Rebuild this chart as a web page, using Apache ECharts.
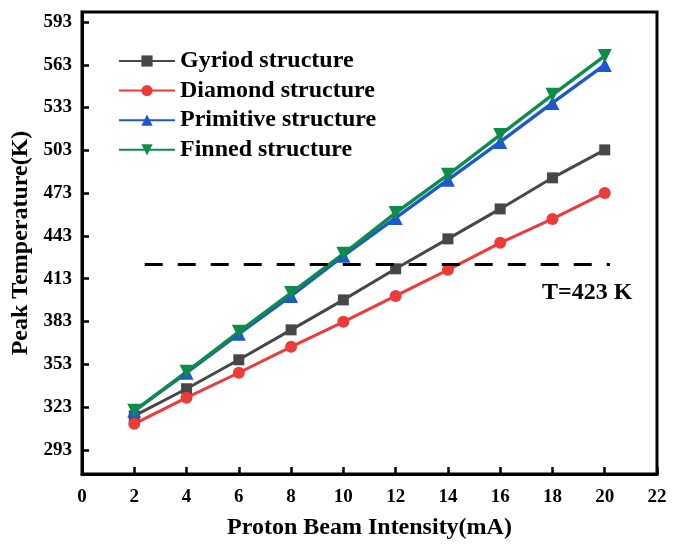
<!DOCTYPE html>
<html>
<head>
<meta charset="utf-8">
<script src="https://cdn.jsdelivr.net/npm/echarts@6/dist/echarts.min.js"></script>
<style>html,body{margin:0;padding:0;background:#fff}#c{width:678px;height:545px}</style>
</head>
<body>
<div id="c"></div>
<script>
var xValues = [2, 4, 6, 8, 10, 12, 14, 16, 18, 20];
var gyroid = [316.8, 335.8, 356.1, 377.1, 398.1, 419.9, 440.9, 461.9, 483.7, 503.3];
var diamond = [311.2, 329.5, 347.0, 365.2, 382.7, 400.9, 419.2, 438.1, 454.9, 473.1];
var primitive = [320.3, 347.0, 374.3, 400.9, 429.0, 455.6, 482.3, 508.9, 536.2, 562.9];
var finned = [320.3, 347.7, 375.7, 403.0, 430.4, 459.1, 485.8, 513.8, 541.9, 569.2];
var yTicks = [293, 323, 353, 383, 413, 443, 473, 503, 533, 563, 593];
var thresholdValue = 423;
var thresholdRange = [2.4, 20.2];
var thresholdLabel = 'T=423 K';

function pairs(ys) { return xValues.map(function (x, i) { return [x, ys[i]]; }); }

var font = '"Liberation Serif", "Times New Roman", serif';
var chart = echarts.init(document.getElementById('c'), null, { renderer: 'canvas' });

function series(name, data, color, symbol, size, width, rotate) {
  return {
    name: name, type: 'line', data: pairs(data),
    symbol: symbol, symbolSize: size, symbolRotate: rotate || 0,
    lineStyle: { color: color, width: width },
    itemStyle: { color: color },
    z: 3
  };
}

var s = [
  series('Gyriod structure', gyroid, '#474747', 'rect', 11, 3),
  series('Diamond structure', diamond, '#ef3a3a', 'circle', 12, 3),
  series('Primitive structure', primitive, '#1c57d4', 'triangle', 14, 3.4),
  series('Finned structure', finned, '#0d8c4a', 'triangle', 14, 3.4, 180)
];
s.push({
  type: 'line', data: [], silent: true,
  markLine: {
    symbol: ['none', 'none'], silent: true,
    lineStyle: { color: '#000', type: [18, 15], width: 3 },
    label: { show: false },
    data: [[{ coord: [thresholdRange[0], thresholdValue] }, { coord: [thresholdRange[1], thresholdValue] }]]
  }
});

chart.setOption({
  animation: false,
  backgroundColor: '#fff',
  grid: { left: 82, right: 21, top: 12, bottom: 71, containLabel: false, outerBoundsMode: 'none',
          show: true, borderColor: '#000', borderWidth: 3 },
  legend: {
    orient: 'vertical', left: 118, top: 49, padding: 0,
    itemWidth: 56, itemHeight: 14, itemGap: 5.6,
    textStyle: { fontFamily: font, fontWeight: 'bold', fontSize: 24, color: '#000', lineHeight: 24 },
    data: ['Gyriod structure', 'Diamond structure', 'Primitive structure', 'Finned structure']
  },
  xAxis: {
    type: 'value', min: 0, max: 22, interval: 2,
    name: 'Proton Beam Intensity(mA)', nameLocation: 'middle', nameGap: 42,
    nameTextStyle: { fontFamily: font, fontWeight: 'bold', fontSize: 24, color: '#000' },
    axisLine: { show: true, onZero: false, lineStyle: { color: '#000', width: 3 } },
    axisTick: { show: true, inside: true, length: 7, lineStyle: { color: '#000', width: 2.5 } },
    axisLabel: { fontFamily: font, fontWeight: 'bold', fontSize: 19, color: '#000', margin: 14 },
    splitLine: { show: false }
  },
  yAxis: {
    type: 'value', min: 276, max: 600,
    name: 'Peak Temperature(K)', nameLocation: 'middle', nameGap: 42, nameRotate: 90,
    nameTextStyle: { fontFamily: font, fontWeight: 'bold', fontSize: 24, color: '#000' },
    axisLine: { show: true, onZero: false, lineStyle: { color: '#000', width: 3 } },
    axisTick: { show: true, inside: true, length: 7, customValues: yTicks, lineStyle: { color: '#000', width: 2.5 } },
    axisLabel: { fontFamily: font, fontWeight: 'bold', fontSize: 19, color: '#000', margin: 10, customValues: yTicks },
    splitLine: { show: false }
  },
  graphic: [{
    type: 'text', left: 542, top: 281,
    style: { text: thresholdLabel, fontFamily: font, fontWeight: 'bold', fontSize: 24, fill: '#000' }
  }],
  series: s
});
</script>
</body>
</html>
